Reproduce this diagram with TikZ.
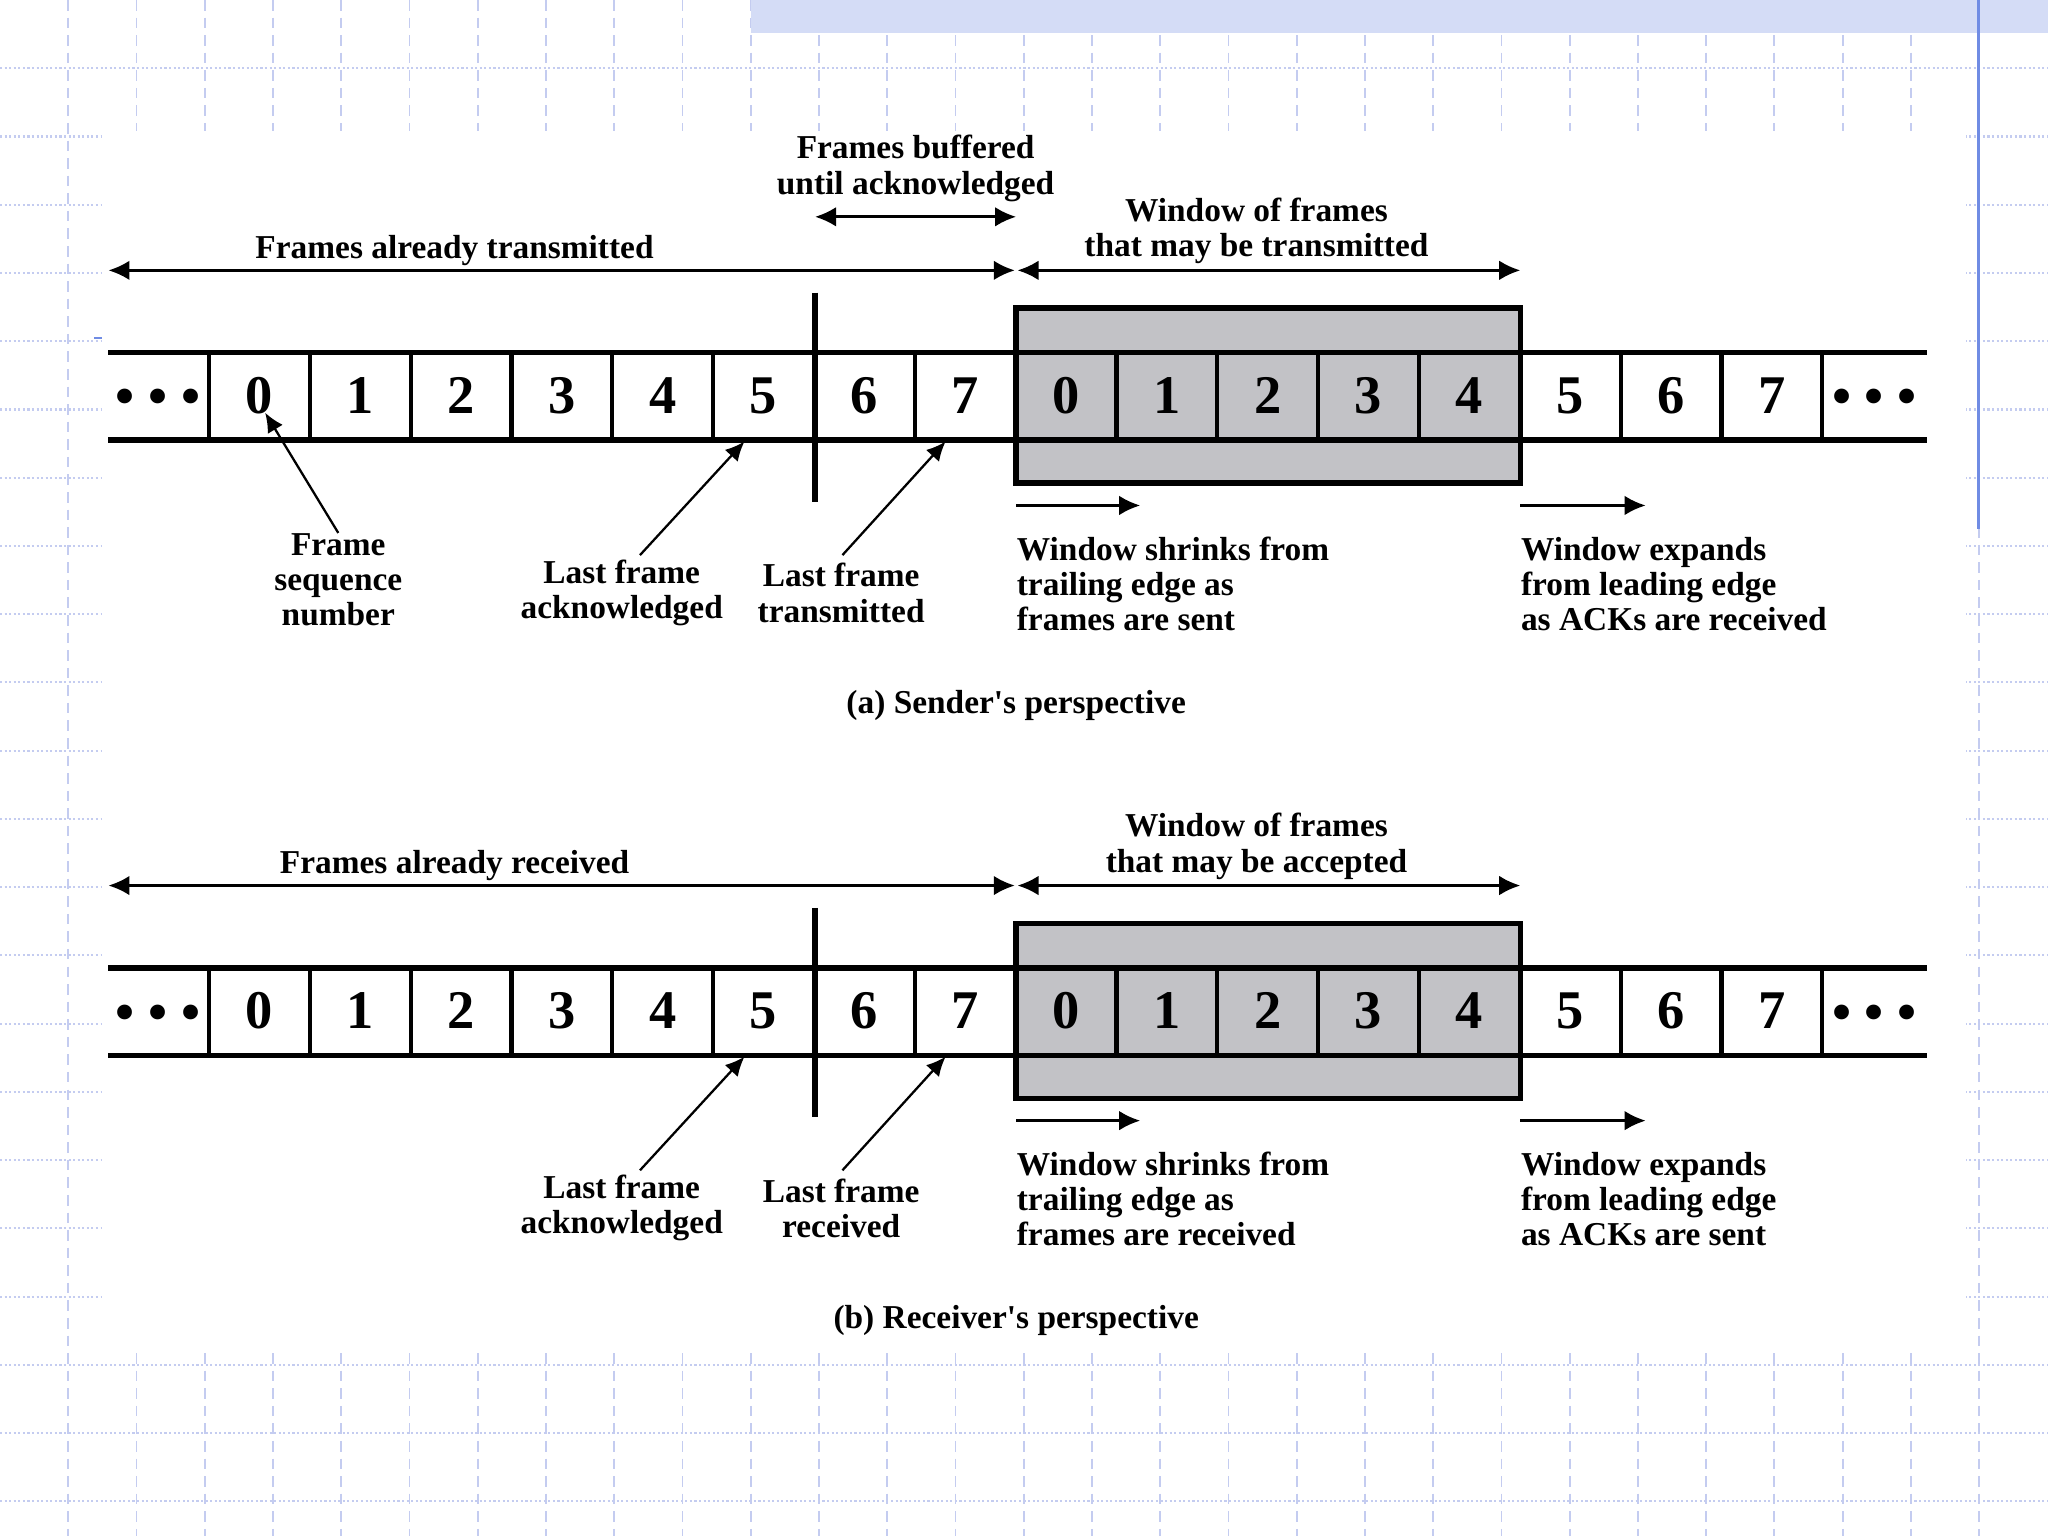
\documentclass[tikz,border=0pt]{standalone}
\usepackage{fontspec}
\setmainfont{Liberation Serif}
\usetikzlibrary{arrows.meta}
\definecolor{gridc}{RGB}{196,204,240}
\definecolor{bandc}{RGB}{212,220,246}
\definecolor{bluel}{RGB}{112,140,228}
\definecolor{wing}{RGB}{194,194,198}
\begin{document}
\begin{tikzpicture}[x=0.0130612cm,y=-0.0130612cm,
  gridv/.style={draw=gridc,line width=0.5pt,dash pattern=on 3pt off 2pt},
  gridh/.style={draw=gridc,line width=0.6pt,dash pattern=on 0.6pt off 0.7pt},
  winbox/.style={draw=black,fill=wing,line width=1.6pt},
  strip/.style={line width=1.6pt},
  cellsep/.style={line width=1.2pt},
  marker/.style={line width=1.9pt},
  dig/.style={font=\fontsize{15.5}{15.5}\selectfont\bfseries,inner sep=0pt},
  lbl/.style={font=\fontsize{9.5}{10}\selectfont\bfseries,align=center,inner sep=0pt},
  lbll/.style={lbl,align=left,anchor=west},
  dbl/.style={line width=0.8pt,{Latex[length=6pt,width=5.6pt]}-{Latex[length=6pt,width=5.6pt]}},
  rar/.style={line width=0.8pt,-{Latex[length=6pt,width=5.6pt]}},
  ptr/.style={line width=0.65pt,-{Latex[length=5.5pt,width=5pt]}}]
\useasboundingbox (0,0) rectangle (1568,1176);
\fill[white] (0,0) rectangle (1568,1176);
% background grid
\foreach \i in {1,...,29} \draw[gridv] (52.25*\i,0) -- (52.25*\i,1176);
\foreach \j in {1,...,22} \draw[gridh] (0,52.25*\j) -- (1568,52.25*\j);
\fill[white] (78,100) rectangle (1505,1031);
\fill[bandc] (575,0) rectangle (1568,25);
\draw[bluel,line width=0.9pt] (1515,0) -- (1515,405);
\draw[bluel,line width=0.6pt] (72,259) -- (78,259);
% common structure of both panels
\foreach \p/\oy in {a/0,b/471}{
 \begin{scope}[shift={(0,\oy)}]
  \draw[winbox] (778,236) rectangle (1164,370);
  \draw[strip] (83,270) -- (1475,270) (83,337) -- (1475,337);
  \foreach \k in {0,...,16}{\ifnum\k=6\else\draw[cellsep] (160+77.2*\k,270) -- (160+77.2*\k,337);\fi}
  \draw[marker] (624,224) -- (624,384);
  \node[dig] (\p-dl) at (121,308) {\textbullet\ \textbullet\ \textbullet};
  \foreach \k in {0,...,15}{
    \pgfmathtruncatemacro{\dd}{mod(\k,8)}
    \node[dig] (\p-c\k) at (160+77.2*\k+38.6,303) {\dd};}
  \node[dig] (\p-dr) at (1435,308) {\textbullet\ \textbullet\ \textbullet};
  % top double arrows
  \coordinate (\p-l0) at (83,207);
  \coordinate (\p-l1) at (777,207);
  \coordinate (\p-r0) at (779,207);
  \coordinate (\p-r1) at (1164,207);
  \draw[dbl] (\p-l0) -- (\p-l1);
  \draw[dbl] (\p-r0) -- (\p-r1);
  % pointer arrows
  \coordinate (\p-la0) at (490,425);
  \coordinate (\p-la1) at (570,338);
  \coordinate (\p-lt0) at (645,425);
  \coordinate (\p-lt1) at (724,338);
  \draw[ptr] (\p-la0) -- (\p-la1);
  \draw[ptr] (\p-lt0) -- (\p-lt1);
  % shrink / expand arrows
  \coordinate (\p-s0) at (778,387);
  \coordinate (\p-s1) at (873,387);
  \coordinate (\p-e0) at (1164,387);
  \coordinate (\p-e1) at (1260,387);
  \draw[rar] (\p-s0) -- (\p-s1);
  \draw[rar] (\p-e0) -- (\p-e1);
  \node[lbl] (\p-lfa) at (476,454) {Last frame\\acknowledged};
 \end{scope}
}
% panel (a) specifics
\node[lbl] (a-fat) at (348,192) {Frames already transmitted};
\node[lbl] (a-win) at (962,177) {Window of frames\\that may be transmitted};
\node[lbl] (a-buf) at (701,129) {Frames buffered\\until acknowledged};
\coordinate (a-b0) at (624,166);
\coordinate (a-b1) at (778,166);
\draw[dbl] (a-b0) -- (a-b1);
\node[lbl] (a-fsn) at (259,444) {Frame\\sequence\\number};
\coordinate (a-f1) at (203,316);
\draw[ptr] (a-fsn.north) -- (a-f1);
\node[lbl] (a-lft) at (644,454) {Last frame\\transmitted};
\node[lbll] (a-shr) at (778,447) {Window shrinks from\\trailing edge as\\frames are sent};
\node[lbll] (a-exp) at (1164,447) {Window expands\\from leading edge\\as ACKs are received};
\node[lbl] (a-cap) at (778,540) {(a) Sender\textquotesingle s perspective};
% panel (b) specifics
\node[lbl] (b-fat) at (348,663) {Frames already received};
\node[lbl] (b-win) at (962,648) {Window of frames\\that may be accepted};
\node[lbl] (b-lft) at (644,925) {Last frame\\received};
\node[lbll] (b-shr) at (778,918) {Window shrinks from\\trailing edge as\\frames are received};
\node[lbll] (b-exp) at (1164,918) {Window expands\\from leading edge\\as ACKs are sent};
\node[lbl] (b-cap) at (778,1011) {(b) Receiver\textquotesingle s perspective};
\end{tikzpicture}
\end{document}
